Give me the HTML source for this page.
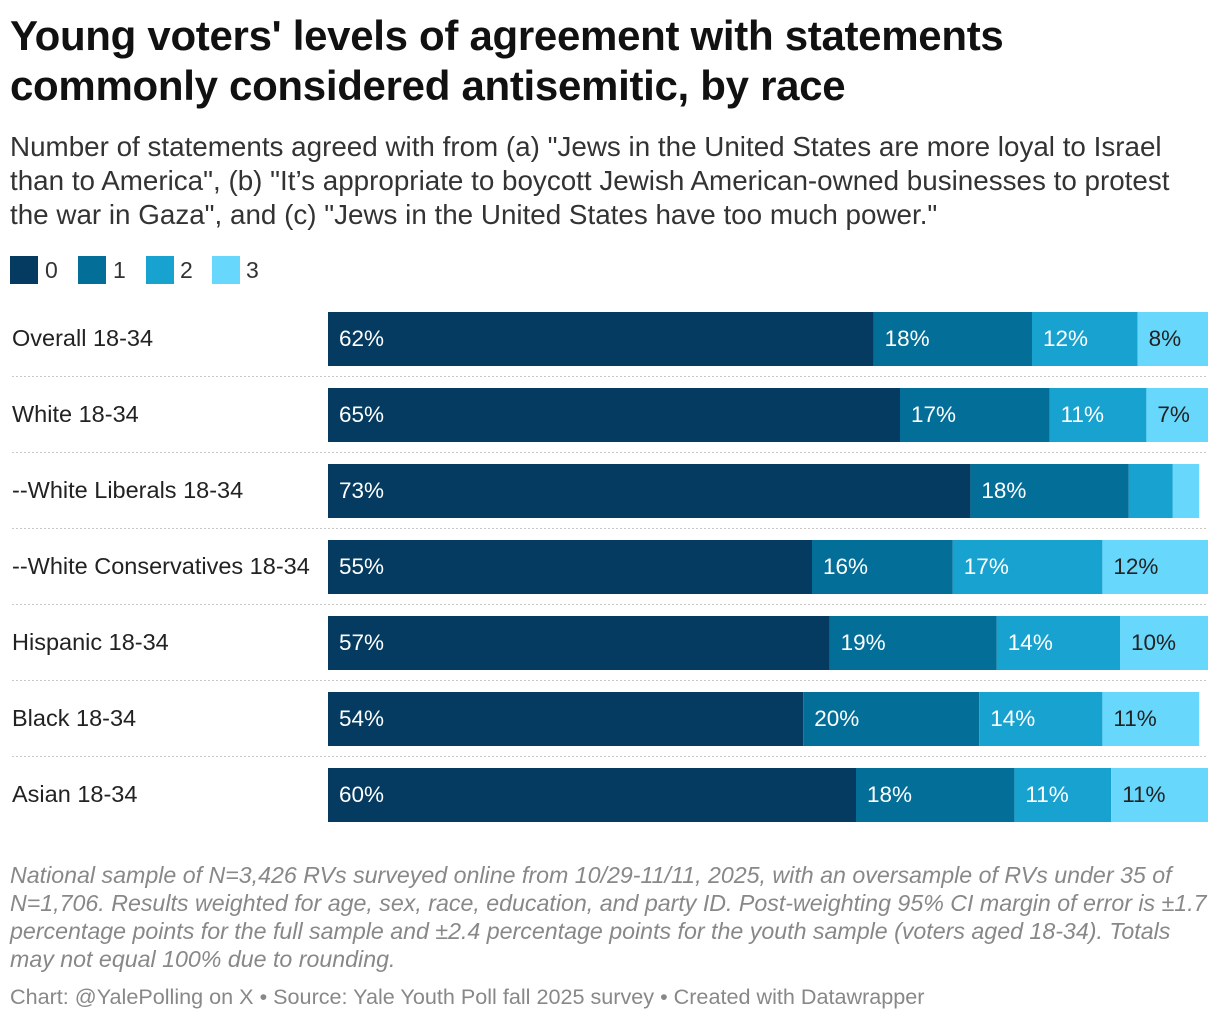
<!DOCTYPE html>
<html><head><meta charset="utf-8"><style>
body{margin:0;width:1220px;height:1020px;background:#fff;font-family:"Liberation Sans",sans-serif;color:#1d1d1d;position:relative;overflow:hidden}
.abs{position:absolute}
#title{left:10px;top:11px;font-size:42px;font-weight:bold;line-height:50px;letter-spacing:-0.3px;color:#111;white-space:nowrap}
#sub{left:10px;top:130px;font-size:27.8px;line-height:34px;color:#333;white-space:nowrap}
.lg{position:absolute;top:256px;width:28px;height:28px}
.lgt{position:absolute;top:256px;font-size:23px;line-height:28px;color:#333}
#notes{left:10px;top:861px;font-size:23.2px;line-height:28px;font-style:italic;color:#888;white-space:nowrap}
#credit{left:10px;top:984px;font-size:21.6px;color:#888;white-space:nowrap}
</style></head><body>
<div id="title" class="abs">Young voters' levels of agreement with statements<br>commonly considered antisemitic, by race</div>
<div id="sub" class="abs">Number of statements agreed with from (a) "Jews in the United States are more loyal to Israel<br>than to America", (b) "It’s appropriate to boycott Jewish American-owned businesses to protest<br>the war in Gaza", and (c) "Jews in the United States have too much power."</div>
<div class="lg" style="left:10px;background:#053b60"></div><div class="lgt" style="left:45px">0</div>
<div class="lg" style="left:78px;background:#036e98"></div><div class="lgt" style="left:113px">1</div>
<div class="lg" style="left:146px;background:#18a2cf"></div><div class="lgt" style="left:180px">2</div>
<div class="lg" style="left:212px;background:#67d7fc"></div><div class="lgt" style="left:246px">3</div>
<svg id="chart" class="abs" style="left:0;top:0" width="1220" height="840"></svg>
<div id="notes" class="abs">National sample of N=3,426 RVs surveyed online from 10/29-11/11, 2025, with an oversample of RVs under 35 of<br>N=1,706. Results weighted for age, sex, race, education, and party ID. Post-weighting 95% CI margin of error is ±1.7<br>percentage points for the full sample and ±2.4 percentage points for the youth sample (voters aged 18-34). Totals<br>may not equal 100% due to rounding.</div>
<div id="credit" class="abs">Chart: @YalePolling on X • Source: Yale Youth Poll fall 2025 survey • Created with Datawrapper</div>
<script>
const categories=["Overall 18-34","White 18-34","--White Liberals 18-34","--White Conservatives 18-34","Hispanic 18-34","Black 18-34","Asian 18-34"];
const s0=[62,65,73,55,57,54,60];
const s1=[18,17,18,16,19,20,18];
const s2=[12,11,5,17,14,14,11];
const s3=[8,7,3,12,10,11,11];
const hideLabel=[[false,false,false,false],[false,false,false,false],[false,false,true,true],[false,false,false,false],[false,false,false,false],[false,false,false,false],[false,false,false,false]];
const series=[s0,s1,s2,s3];
const colors=["#053b60","#036e98","#18a2cf","#67d7fc"];
const textCol=["#fff","#fff","#fff","#222"];
const svg=document.getElementById('chart');
const NS="http://www.w3.org/2000/svg";
const x0=328,plotW=880,top0=312,step=76,barH=54;
const xs=v=>v/100*plotW;
const yRow=i=>top0+i*step;
categories.forEach((c,i)=>{
  const y=yRow(i);
  const t=document.createElementNS(NS,'text');
  t.setAttribute('x',12);t.setAttribute('y',y+barH/2+7);
  t.setAttribute('font-size','23.5');t.setAttribute('fill','#222');
  t.setAttribute('font-family','Liberation Sans, sans-serif');
  t.textContent=c;
  
  
  svg.appendChild(t);
  if(i<categories.length-1){
    const l=document.createElementNS(NS,'line');
    l.setAttribute('x1',12);l.setAttribute('x2',1208);
    l.setAttribute('y1',y+barH+10.5);l.setAttribute('y2',y+barH+10.5);
    l.setAttribute('stroke','#c8c8c8');l.setAttribute('stroke-dasharray','2,2');
    
    
    svg.appendChild(l);
  }
  let acc=0;
  series.forEach((s,k)=>{
    const v=s[i];
    const r=document.createElementNS(NS,'rect');
    r.setAttribute('x',x0+xs(acc));r.setAttribute('y',y);
    r.setAttribute('width',xs(v));r.setAttribute('height',barH);
    r.setAttribute('fill',colors[k]);
    
    
    svg.appendChild(r);
    if(!hideLabel[i][k]){
      const tl=document.createElementNS(NS,'text');
      tl.setAttribute('x',x0+xs(acc)+11);tl.setAttribute('y',y+barH/2+7);
      tl.setAttribute('font-size','22.5');tl.setAttribute('fill',textCol[k]);
      tl.setAttribute('font-family','Liberation Sans, sans-serif');
      tl.textContent=v+'%';
      
      
      svg.appendChild(tl);
    }
    acc+=v;
  });
});
</script>
</body></html>
